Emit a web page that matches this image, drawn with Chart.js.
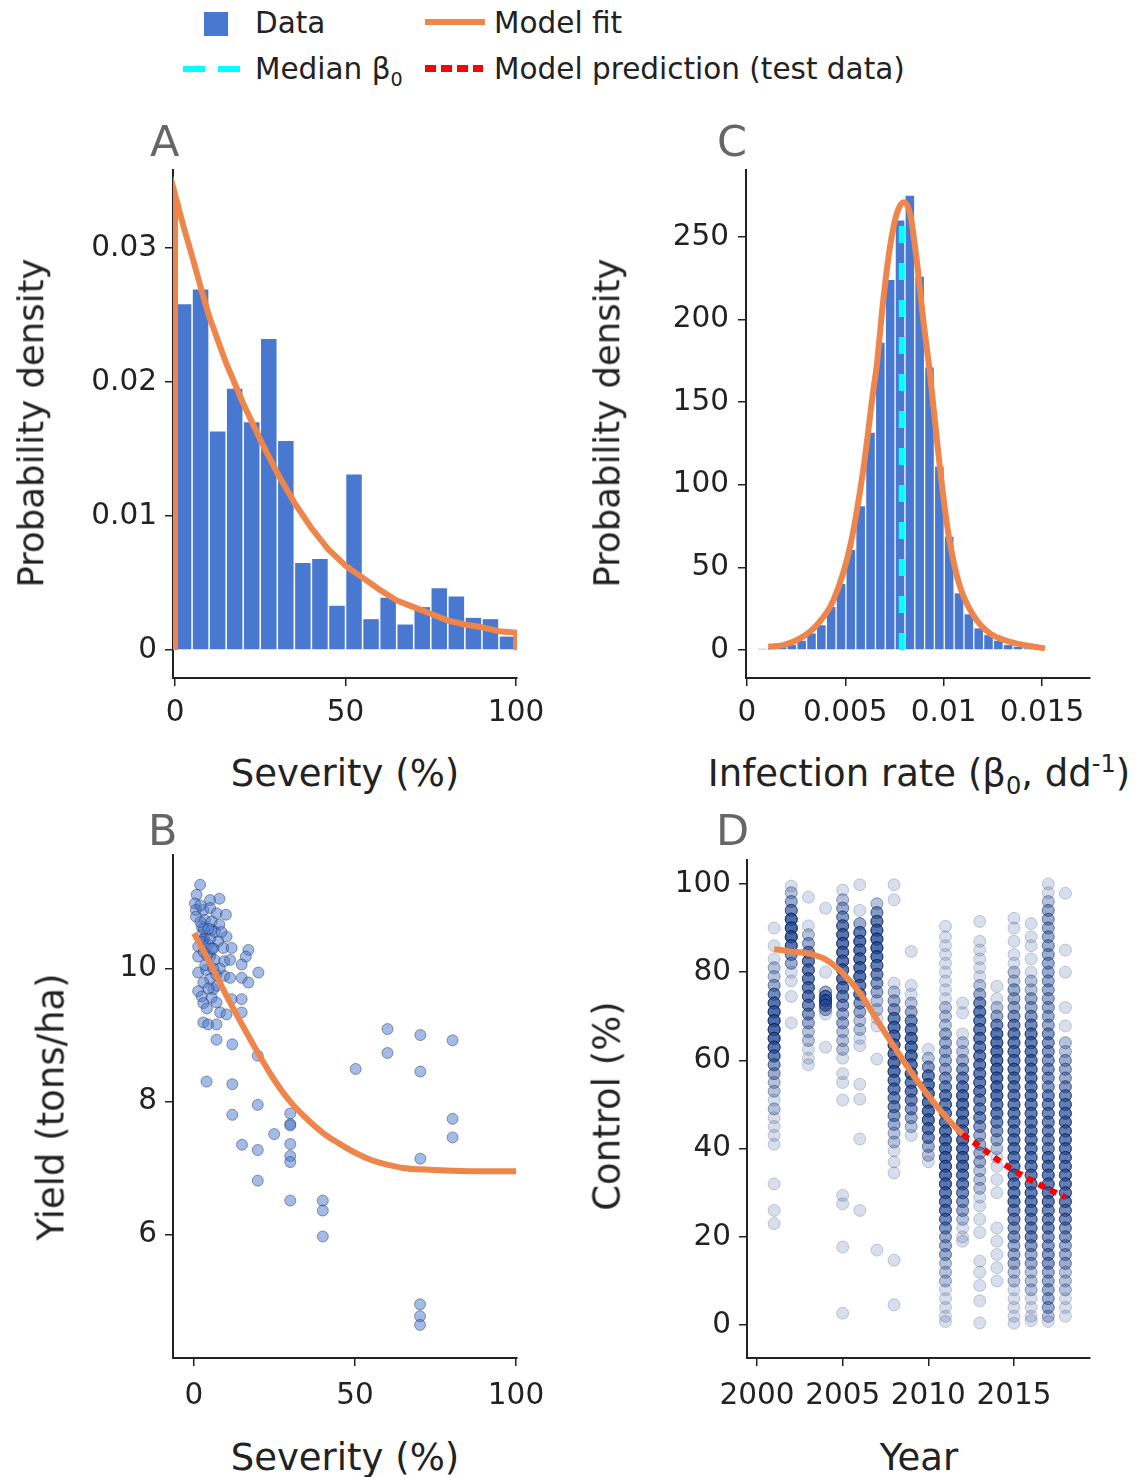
<!DOCTYPE html>
<html>
<head>
<meta charset="utf-8">
<script src="https://cdn.jsdelivr.net/npm/chart.js@4.4.1/dist/chart.umd.min.js"></script>
<style>
  body { margin: 0; background: #fff; }
  #fig { position: relative; width: 1144px; height: 1477px; font-family: "DejaVu Sans", sans-serif; color: #222; }
  canvas { position: absolute; }
  .t { position: absolute; white-space: nowrap; line-height: 1; }
  .ax { font-size: 37px; transform: translate(-50%, -50%); }
  .ay { font-size: 37px; transform: translate(-50%, -50%) rotate(-90deg); }
  .pd { font-size: 35.5px; }
  .lt { font-size: 43px; color: #666; }
  .lg { font-size: 29.5px; }
  .mk { position: absolute; }
  sub, sup { font-size: 0.65em; line-height: 0; }
</style>
</head>
<body>
<div id="fig">
  <!-- legend -->
  <div class="mk" style="left:204px;top:12px;width:24px;height:24px;background:#4878d0"></div>
  <div class="t lg" style="left:255px;top:9px">Data</div>
  <div class="mk" style="left:425px;top:19px;width:60px;height:6px;background:#ee854a"></div>
  <div class="t lg" style="left:494px;top:9px">Model fit</div>
  <div class="mk" style="left:183px;top:66px;width:57px;height:6px;background:repeating-linear-gradient(90deg,#00ffff 0 22px,transparent 22px 35px)"></div>
  <div class="t lg" style="left:255px;top:55px">Median β<sub>0</sub></div>
  <div class="mk" style="left:425px;top:65px;width:58px;height:7px;background:repeating-linear-gradient(90deg,#ff0000 0 11px,transparent 11px 16px)"></div>
  <div class="t lg" style="left:494px;top:55px">Model prediction (test data)</div>

  <canvas id="chartA" width="567" height="598" style="left:0;top:140px"></canvas>
  <canvas id="chartC" width="564" height="598" style="left:576px;top:140px"></canvas>
  <canvas id="chartB" width="567" height="595" style="left:0;top:825px"></canvas>
  <canvas id="chartD" width="564" height="590" style="left:576px;top:830px"></canvas>

  <!-- panel letters -->
  <div class="t lt" style="left:150px;top:120px">A</div>
  <div class="t lt" style="left:717px;top:120px">C</div>
  <div class="t lt" style="left:148px;top:809px">B</div>
  <div class="t lt" style="left:716px;top:809px">D</div>

  <!-- axis titles -->
  <div class="t ay pd" style="left:31px;top:423px">Probability density</div>
  <div class="t ax" style="left:345px;top:773px">Severity (%)</div>
  <div class="t ay pd" style="left:607px;top:423px">Probability density</div>
  <div class="t ax" style="left:919px;top:773px">Infection rate (β<sub>0</sub>, dd<sup>-1</sup>)</div>
  <div class="t ay" style="left:51px;top:1107px">Yield (tons/ha)</div>
  <div class="t ax" style="left:345px;top:1457px">Severity (%)</div>
  <div class="t ay" style="left:607px;top:1106px">Control (%)</div>
  <div class="t ax" style="left:919px;top:1457px">Year</div>
</div>

<script>
// ---- Panel A: severity histogram + fit ----
const sevBinCenters = [2.5, 7.5, 12.5, 17.5, 22.5, 27.5, 32.5, 37.5, 42.5, 47.5,
                       52.5, 57.5, 62.5, 67.5, 72.5, 77.5, 82.5, 87.5, 92.5, 97.5];
const sevDensity = [0.0258, 0.0269, 0.0163, 0.0195, 0.0170, 0.0232, 0.0156, 0.0065, 0.0068, 0.0033,
                    0.0131, 0.0023, 0.0039, 0.0019, 0.0032, 0.0046, 0.0040, 0.0024, 0.0023, 0.0010];
const sevFitX = [0, 0, 2.5, 5, 7.5, 10, 15, 20, 25, 30, 35, 40, 45, 50, 55, 60, 65, 70, 75, 80, 85, 90, 95, 100, 100];
const sevFitY = [0, 0.0340, 0.0316, 0.0294, 0.0271, 0.0249, 0.0214, 0.0184, 0.0157, 0.0132, 0.0110, 0.0091,
                 0.0075, 0.0063, 0.0054, 0.0045, 0.0037, 0.0032, 0.0027, 0.0022, 0.0019, 0.0017, 0.0014, 0.0013, 0];
const aXTicks = [0, 50, 100];
const aXLabels = ['0', '50', '100'];
const aYTicks = [0, 0.01, 0.02, 0.03];
const aYLabels = ['0', '0.01', '0.02', '0.03'];

// ---- Panel C: infection rate histogram + fit + median ----
const betaBinCenters = [0.00078, 0.00128, 0.00178, 0.00228, 0.00278, 0.00328, 0.00378, 0.00428, 0.00478, 0.00528,
                        0.00578, 0.00628, 0.00678, 0.00728, 0.00778, 0.00828, 0.00878, 0.00928, 0.00978, 0.01028,
                        0.01078, 0.01128, 0.01178, 0.01228, 0.01278, 0.01328, 0.01378, 0.01428];
const betaDensity = [0.7, 1.2, 2, 3, 5.6, 10, 15, 26, 40, 60.5,
                     87, 131.5, 186, 224, 260, 275, 226, 171, 111, 68.6,
                     34.3, 21.6, 13.1, 9, 5.6, 3, 2, 1];
const betaFitX = [0.00108, 0.00185, 0.0027, 0.00354, 0.00439, 0.00524, 0.00591, 0.00642, 0.00659, 0.00693,
                  0.00727, 0.00761, 0.00798, 0.00829, 0.00863, 0.00896, 0.0093, 0.00964, 0.00998, 0.01032,
                  0.01083, 0.0115, 0.01235, 0.01337, 0.01439, 0.01515];
const betaFitY = [2, 3, 7, 15, 30, 62.5, 109, 157, 171.5, 212,
                  244, 264, 271, 264, 236, 200, 167.5, 129, 93, 64.6,
                  38.3, 21.2, 10, 5, 2.4, 1];
const betaMedianX = [0.00787, 0.00787];
const betaMedianY = [0, 260];
const cXTicks = [0, 0.005, 0.01, 0.015];
const cXLabels = ['0', '0.005', '0.01', '0.015'];
const cYTicks = [0, 50, 100, 150, 200, 250];
const cYLabels = ['0', '50', '100', '150', '200', '250'];

// ---- Panel B: yield vs severity ----
const yieldSeverity = [60.1, 60.1, 70.3, 70.3, 80.3, 80.3, 80.3, 70.3, 50.2, 19.8, 19.8, 19.8, 19.8, 14.9, 11.9, 11.9,
  11.9, 3.9, 7.0, 24.9, 29.9, 29.9, 29.9, 29.9, 29.9, 29.9, 29.9, 40, 40, 40, 70.2, 70.2, 70.2,
  1.9, 0.8, 0.3, 5.0, 7.9, 0.6, 2.9, 5.0, 7.0, 9.9, 0.6, 3.4, 5.5, 7.9, 2.4, 5.5, 10.1, 2.4, 2.9, 3.2, 2.6,
  1.3, 4.4, 7.5, 9.1, 11.7, 16.9, 16.1, 1.3, 5.0, 6.4, 9.4, 11.2, 14.8, 20.0, 1.3, 3.8, 5.0, 6.9, 9.4, 11.2,
  14.8, 16.9, 2.9, 6.0, 7.0, 1.3, 2.4, 5.5, 7.0, 2.9, 11.7, 14.8, 8.1, 10.1, 14.8, 2.9, 4.4, 7.0, 3.0, 4.0,
  6.0, 8.0, 4.5, 3.5, 5.0, 6.5, 2.0, 8.5, 4.0, 3.0, 6.0, 4.5, 2.0, 5.5];
const yieldTons = [9.09, 8.73, 9.0, 8.45, 8.92, 7.74, 7.46, 7.14, 8.49, 8.69, 7.95, 7.27, 6.81, 7.35, 7.8, 8.26,
  8.86, 8.30, 8.93, 7.51, 7.82, 7.66, 7.64, 7.36, 7.18, 7.09, 6.51, 6.51, 6.36, 5.97, 4.95, 4.77, 4.64,
  11.26, 11.11, 10.98, 11.03, 11.05, 10.88, 10.88, 10.91, 10.83, 10.81, 10.78, 10.73, 10.71, 10.66, 10.63, 10.58, 10.48, 10.51, 10.43, 10.45, 10.40,
  10.33, 10.36, 10.41, 10.31, 10.31, 10.28, 10.18, 10.18, 10.18, 10.13, 10.11, 10.13, 10.06, 9.94, 9.94, 9.98, 9.84, 9.91, 9.89, 9.86,
  9.86, 9.79, 9.79, 9.69, 9.74, 9.66, 9.58, 9.56, 9.49, 9.48, 9.54, 9.54, 9.34, 9.31, 9.34, 9.19, 9.16, 9.16, 10.6, 10.2,
  10.3, 10.0, 9.7, 10.05, 10.45, 10.55, 10.95, 10.55, 9.4, 10.25, 10.0, 10.6, 10.7, 10.3];
const yieldFitX = [0, 5, 10, 15, 20, 25, 30, 35, 40, 45, 50, 55, 60, 65, 70, 80, 90, 100];
const yieldFitY = [10.53, 10.08, 9.6, 9.15, 8.72, 8.32, 7.99, 7.74, 7.53, 7.37, 7.23, 7.12, 7.05, 7.0, 6.98, 6.96, 6.95, 6.95];
const bXTicks = [0, 50, 100];
const bXLabels = ['0', '50', '100'];
const bYTicks = [6, 8, 10];
const bYLabels = ['6', '8', '10'];

// ---- Panel D: control by year, [value, how many points stack there] ----
const controlYears = [2001, 2002, 2003, 2004, 2005, 2006, 2007, 2008, 2009,
                      2010, 2011, 2012, 2013, 2014, 2015, 2016, 2017, 2018];
const c2001 = [[90,1],[86,1],[83,1],[81,2],[79,2],[77,3],[75,5],[73,7],[71,8],[69,8],[67,8],[65,8],[63,7],[61,6],[59,4],[57,3],[55,2],[53,2],[51,1],[49,2],[47,1],[45,1],[43,1],[41,1],[32,1],[26,1],[23,1]];
const c2002 = [[99.5,1],[98,2],[96,3],[94,5],[92,8],[90,9],[88,9],[86,7],[84,4],[82,3],[80,1],[78,1],[74.5,1],[68.5,1]];
const c2003 = [[97,1],[90.5,1],[88.5,2],[86.5,3],[84.5,5],[82.5,6],[80.5,6],[78.5,6],[76.5,6],[74.5,6],[72.5,5],[70.5,4],[68.5,3],[66.5,2],[64.5,2],[62.5,1],[60.5,1],[59,1]];
const c2004 = [[94.5,1],[80,1],[75.5,3],[74.5,6],[73.5,9],[72.5,6],[71.5,3],[70.5,1],[63,1]];
const c2005 = [[98.6,1],[96.4,2],[94.5,3],[92.5,4],[90.5,6],[88.5,7],[86.5,7],[84.5,7],[82.5,7],[80.5,7],[78.5,7],[76.5,6],[74.5,5],[72.5,4],[70.5,3],[68.5,3],[66.5,2],[64.5,2],[62.5,2],[60.5,1],[57,1],[55,1],[51,1],[29.4,1],[27.5,1],[17.7,1],[2.7,1]];
const c2006 = [[99.8,1],[94,1],[91,3],[89,6],[87,7],[85,7],[83,7],[81,7],[79,7],[77,6],[75,6],[73,4],[71,3],[69,2],[67,2],[65,1],[63.3,1],[54.6,1],[51.2,1],[42.2,1],[26,1]];
const c2007 = [[95.5,2],[93.5,4],[91.5,6],[89.5,7],[87.5,8],[85.5,8],[83.5,7],[81.5,6],[79.5,5],[77.5,4],[75.5,3],[73.5,2],[71.5,2],[69.5,1],[67.8,1],[60.3,1],[17,1]];
const c2008 = [[99.8,1],[96.4,1],[77.5,1],[75.5,2],[73.5,3],[71.5,4],[69.5,6],[67.5,7],[65.5,7],[63.5,7],[61.5,7],[59.5,7],[57.5,7],[55.5,6],[53.5,6],[51.5,5],[49.5,5],[47.5,4],[45.5,3],[43.5,2],[41.5,2],[39.5,1],[37,1],[34.5,1],[14.7,1],[4.6,1]];
const c2009 = [[84.7,1],[77,1],[75,1],[73,2],[71,3],[69,5],[67,6],[65,7],[63,7],[61,7],[59,7],[57,7],[55,6],[53,6],[51,5],[49,4],[47,3],[45,2],[43,1]];
const c2010 = [[62.5,1],[60.5,2],[58.5,4],[56.5,6],[54.5,7],[52.5,7],[50.5,7],[48.5,7],[46.5,7],[44.5,6],[42.5,5],[40.5,3],[38.5,2],[37,1]];
const c2011 = [[90.4,1],[88,1],[86,1],[84,1],[82,1],[80,1],[78,1],[76,1],[74,1],[72,2],[70,2],[68,2],[66,3],[64,3],[62,3],[60,3],[58,3],[56,4],[54,5],[52,6],[50,6],[48,6],[46,7],[44,7],[42,7],[40,7],[38,7],[36,7],[34,7],[32,7],[30,6],[28,6],[26,6],[24,5],[22,4],[20,3],[18,3],[16,3],[14,2],[12,2],[10,2],[8,1],[6,1],[4,1],[2,1],[0.8,1]];
const c2012 = [[73,1],[70.8,1],[66,1],[64,2],[62,2],[60,3],[58,4],[56,5],[54,6],[52,7],[50,7],[48,7],[46,7],[44,7],[42,7],[40,7],[38,7],[36,7],[34,6],[32,6],[30,5],[28,4],[26,3],[24,2],[22,1],[20,1],[19,1]];
const c2013 = [[91.5,1],[87,1],[85,1],[83,1],[81,1],[79,1],[77,2],[75,3],[73,5],[71,6],[69,6],[67,6],[65,6],[63,6],[61,6],[59,6],[57,6],[55,6],[53,6],[51,5],[49,5],[47,5],[45,4],[43,3],[41,3],[39,3],[37,3],[35,2],[33,2],[31,2],[29,1],[27,1],[24,1],[21,1],[14.5,1],[12,1],[9,1],[5.5,1],[0.5,1]];
const c2014 = [[76.8,1],[74,1],[72,2],[70,3],[68,5],[66,7],[64,7],[62,7],[60,7],[58,7],[56,7],[54,7],[52,7],[50,6],[48,6],[46,5],[44,4],[42,3],[40,2],[38,1],[36,1],[33,1],[30,1],[22,1],[19,1],[16,1],[13,1],[10,1]];
const c2015 = [[92.2,1],[90,1],[87,1],[84,1],[82,1],[80,2],[78,2],[76,3],[74,3],[72,3],[70,4],[68,5],[66,6],[64,6],[62,6],[60,6],[58,6],[56,6],[54,6],[52,6],[50,6],[48,6],[46,6],[44,6],[42,6],[40,6],[38,6],[36,6],[34,6],[32,6],[30,6],[28,6],[26,5],[24,5],[22,4],[20,4],[18,3],[16,3],[14,3],[12,2],[10,2],[8,1],[6,1],[4,1],[2,1],[0.4,1]];
const c2016 = [[91,1],[88,1],[86,1],[83,1],[80,1],[78,2],[76,2],[74,3],[72,3],[70,4],[68,5],[66,6],[64,6],[62,6],[60,6],[58,6],[56,6],[54,6],[52,6],[50,6],[48,6],[46,6],[44,6],[42,6],[40,6],[38,6],[36,6],[34,6],[32,6],[30,6],[28,6],[26,6],[24,5],[22,5],[20,5],[18,4],[16,3],[14,3],[12,2],[10,2],[8,2],[6,1],[4,1],[2,1],[1,1]];
const c2017 = [[100,1],[98,1],[96,2],[94,3],[92,3],[90,3],[88,3],[86,3],[84,3],[82,3],[80,3],[78,3],[76,3],[74,3],[72,3],[70,3],[68,3],[66,4],[64,4],[62,4],[60,4],[58,4],[56,4],[54,4],[52,5],[50,5],[48,5],[46,5],[44,5],[42,5],[40,5],[38,6],[36,6],[34,6],[32,6],[30,6],[28,6],[26,5],[24,5],[22,5],[20,4],[18,4],[16,4],[14,4],[12,3],[10,3],[8,3],[6,3],[4,3],[2,2],[0.8,1]];
const c2018 = [[97.9,1],[85,1],[80,1],[72,1],[67.8,1],[64,2],[62,2],[60,3],[58,3],[56,3],[54,4],[52,5],[50,6],[48,6],[46,6],[44,6],[42,6],[40,6],[38,6],[36,6],[34,6],[32,6],[30,6],[28,6],[26,5],[24,5],[22,4],[20,4],[18,3],[16,3],[14,3],[12,2],[10,2],[8,2],[6,1],[4,1],[2,1]];
const controlColumns = [c2001, c2002, c2003, c2004, c2005, c2006, c2007, c2008, c2009,
                        c2010, c2011, c2012, c2013, c2014, c2015, c2016, c2017, c2018];
const controlFitX = [2001, 2002, 2003, 2004, 2005, 2006, 2007, 2008, 2009, 2010, 2011, 2012];
const controlFitY = [85.2, 84.7, 84.2, 82.9, 79.8, 75.3, 69.2, 63.1, 57.3, 52.0, 47.3, 43.2];
const predX = [2012, 2013, 2014, 2015, 2016, 2017, 2018];
const predY = [43.2, 40.5, 37.6, 35.0, 32.8, 30.8, 29.0];
const dXTicks = [2000, 2005, 2010, 2015];
const dXLabels = ['2000', '2005', '2010', '2015'];
const dYTicks = [0, 20, 40, 60, 80, 100];
const dYLabels = ['0', '20', '40', '60', '80', '100'];

const BLUE = '#4878d0';
const ORANGE = '#ee854a';
const INK = '#222';
const FONT = '"DejaVu Sans"';

function zip(xs, ys) {
    return xs.map((x, i) => ({ x, y: ys[i] }));
}

function axis(min, max, ticks, labels, pad, fit) {
    return {
        type: 'linear',
        min, max,
        offset: false,
        afterBuildTicks: (s) => { s.ticks = ticks.map((v) => ({ value: v })); },
        afterFit: fit,
        border: { display: true, color: INK, width: 2 },
        grid: { drawOnChartArea: false, drawTicks: true, tickLength: 8, color: INK, lineWidth: 1.5, offset: false },
        ticks: {
            autoSkip: false, maxRotation: 0, padding: pad, color: INK,
            font: { family: FONT, size: 29.5, lineHeight: 1.2 },
            callback: (v, i) => labels[i]
        }
    };
}

function makeChart(id, type, datasets, x, y) {
    return new Chart(document.getElementById(id), {
        type,
        data: { datasets },
        options: {
            responsive: false,
            animation: false,
            devicePixelRatio: 1,
            events: [],
            layout: { padding: { top: 30, right: 50, bottom: 0, left: 0 } },
            plugins: { legend: { display: false }, tooltip: { enabled: false } },
            scales: { x, y }
        }
    });
}

const fitLine = (data, color, order) => ({
    type: 'line', data, borderColor: color, borderWidth: 6, pointRadius: 0,
    fill: false, tension: 0, borderCapStyle: 'butt', order
});

// A
makeChart('chartA', 'line', [
    fitLine(zip(sevFitX, sevFitY), ORANGE, 0),
    { type: 'bar', data: zip(sevBinCenters, sevDensity), backgroundColor: BLUE, borderWidth: 0,
      categoryPercentage: 1, barPercentage: 0.91, order: 2 }
], axis(-0.59, 100.29, aXTicks, aXLabels, 10, (s) => { s.height = 60; }),
   axis(-0.0020896, 0.035821, aYTicks, aYLabels, 8, (s) => { s.width = 173; }));

// C
makeChart('chartC', 'line', [
    Object.assign(fitLine(zip(betaFitX, betaFitY), ORANGE, 0), { cubicInterpolationMode: 'monotone' }),
    { type: 'line', data: zip(betaMedianX, betaMedianY), borderColor: '#00ffff', borderWidth: 6,
      borderDash: [17, 20], pointRadius: 0, fill: false, borderCapStyle: 'butt', order: 1 },
    { type: 'bar', data: zip(betaBinCenters, betaDensity), backgroundColor: BLUE, borderWidth: 0,
      categoryPercentage: 1, barPercentage: 0.87, order: 2 }
], axis(-0.0000508, 0.01744, cXTicks, cXLabels, 10, (s) => { s.height = 60; }),
   axis(-16.95, 290.56, cYTicks, cYLabels, 9, (s) => { s.width = 170; }));

// B
makeChart('chartB', 'scatter', [
    Object.assign(fitLine(zip(yieldFitX, yieldFitY), ORANGE, 0), { cubicInterpolationMode: 'monotone' }),
    { type: 'scatter', data: zip(yieldSeverity, yieldTons), pointRadius: 5.5,
      pointBackgroundColor: 'rgba(72,120,208,0.5)', pointBorderColor: 'rgba(30,40,70,0.45)',
      pointBorderWidth: 1, order: 2 }
], axis(-6.52, 100.31, bXTicks, bXLabels, 13, (s) => { s.height = 62; }),
   axis(4.142, 11.708, bYTicks, bYLabels, 8, (s) => { s.width = 173; }));

// D
const controlPoints = [];
controlYears.forEach((year, i) => {
    controlColumns[i].forEach(([value, count]) => {
        for (let k = 0; k < count; k++) controlPoints.push({ x: year, y: value });
    });
});

makeChart('chartD', 'scatter', [
    { type: 'line', data: zip(predX, predY), borderColor: '#ff0000', borderWidth: 6,
      borderDash: [7, 6], pointRadius: 0, fill: false, borderCapStyle: 'butt', order: 0 },
    Object.assign(fitLine(zip(controlFitX, controlFitY), ORANGE, 1), { cubicInterpolationMode: 'monotone' }),
    { type: 'scatter', data: controlPoints, pointRadius: 6,
      pointBackgroundColor: 'rgba(35,70,150,0.18)', pointBorderColor: 'rgba(10,25,70,0.2)',
      pointBorderWidth: 1, order: 3 }
], axis(1999.416, 2019.436, dXTicks, dXLabels, 13, (s) => { s.height = 62; }),
   axis(-7.45, 105.42, dYTicks, dYLabels, 8, (s) => { s.width = 171; }));
</script>
</body>
</html>
